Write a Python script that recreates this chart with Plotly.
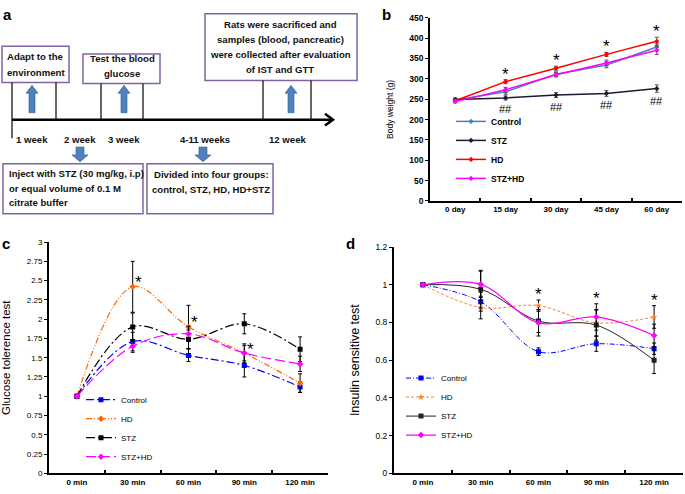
import plotly.graph_objects as go

W, H = 685, 494

# ---------------- data ----------------
days = ["0 day", "15 day", "30 day", "45 day", "60 day"]
bw_control = [248, 268, 311, 334, 378]
bw_stz = [249, 253, 260, 264, 276]
bw_hd = [246, 293, 326, 360, 392]
bw_stzhd = [244, 273, 310, 339, 370]
bw_control_err = [3, 6, 6, 7, 8]
bw_stz_err = [4, 5, 6, 7, 9]
bw_hd_err = [3, 5, 5, 5, 10]
bw_stzhd_err = [3, 6, 5, 7, 10]
bw_star_idx = [1, 2, 3, 4]

mins = ["0 min", "30 min", "60 min", "90 min", "120 min"]
gtt_control = [1.0, 1.71, 1.53, 1.40, 1.12]
gtt_hd = [1.0, 2.42, 1.90, 1.56, 1.17]
gtt_stz = [1.0, 1.90, 1.74, 1.94, 1.61]
gtt_stzhd = [1.0, 1.65, 1.81, 1.56, 1.42]
gtt_control_err = [0, 0.12, 0.08, 0.15, 0.07]
gtt_hd_err = [0, 0.33, 0.28, 0.12, 0.12]
gtt_stz_err = [0, 0.18, 0.12, 0.13, 0.16]
gtt_stzhd_err = [0, 0.08, 0.10, 0.10, 0.10]
gtt_star_idx = [1, 2, 3]

ist_control = [1.0, 0.91, 0.645, 0.687, 0.661]
ist_hd = [1.0, 0.879, 0.889, 0.798, 0.829]
ist_stz = [1.0, 0.976, 0.807, 0.786, 0.599]
ist_stzhd = [1.0, 1.002, 0.798, 0.829, 0.731]
ist_control_err = [0, 0.05, 0.02, 0.04, 0.03]
ist_hd_err = [0, 0.06, 0.03, 0.07, 0.06]
ist_stz_err = [0, 0.10, 0.06, 0.08, 0.07]
ist_stzhd_err = [0, 0.07, 0.07, 0.07, 0.06]
ist_star_idx = [2, 3, 4]

FONT = "Arial, Liberation Sans, sans-serif"


def px(x):
    return x / W


def py(y):
    return 1 - y / H


fig = go.Figure()


def add_series(x, y, err, name, color, xa, ya, legend, dash="solid", symbol="circle",
               msize=4, width=1.5, shape="linear", ecolor="black"):
    fig.add_trace(go.Scatter(
        x=x, y=y, name=name, xaxis=xa, yaxis=ya, legend=legend,
        mode="lines+markers", line=dict(color=color, width=width, dash=dash, shape=shape),
        marker=dict(color=color, size=msize, symbol=symbol),
        error_y=dict(type="data", array=err, color=ecolor, thickness=1, width=2),
    ))


# panel b
add_series(days, bw_control, bw_control_err, "Control", "#4A7EBB", "x", "y", "legend",
           symbol="diamond", msize=4, width=1.5, ecolor="#555555")
add_series(days, bw_stz, bw_stz_err, "STZ", "#1A1A33", "x", "y", "legend",
           symbol="diamond", msize=4, width=1.5, ecolor="#555555")
add_series(days, bw_hd, bw_hd_err, "HD", "#FF0000", "x", "y", "legend",
           symbol="diamond", msize=4, width=1.5, ecolor="#555555")
add_series(days, bw_stzhd, bw_stzhd_err, "STZ+HD", "#FF00FF", "x", "y", "legend",
           symbol="diamond", msize=4, width=1.5, ecolor="#555555")

# panel c
add_series(mins, gtt_control, gtt_control_err, "Control", "#0000FF", "x2", "y2", "legend2",
           dash="8px,3px,2px,3px", symbol="square", msize=5, width=1.2, shape="spline")
add_series(mins, gtt_hd, gtt_hd_err, "HD", "#FF6600", "x2", "y2", "legend2",
           dash="6px,2px,1px,2px,1px,2px", symbol="diamond", msize=5, width=1.2, shape="spline")
add_series(mins, gtt_stz, gtt_stz_err, "STZ", "#000000", "x2", "y2", "legend2",
           dash="9px,3px,2px,3px", symbol="square", msize=5, width=1.2, shape="spline")
add_series(mins, gtt_stzhd, gtt_stzhd_err, "STZ+HD", "#FF00FF", "x2", "y2", "legend2",
           dash="10px,4px", symbol="diamond", msize=5, width=1.2, shape="spline")

# panel d
add_series(mins, ist_control, ist_control_err, "Control", "#0000FF", "x3", "y3", "legend3",
           dash="5px,2px,1px,2px", symbol="square", msize=5, width=1.0, shape="spline")
add_series(mins, ist_hd, ist_hd_err, "HD", "#FF7F27", "x3", "y3", "legend3",
           dash="3px,2px", symbol="star", msize=5, width=1.0, shape="spline")
add_series(mins, ist_stz, ist_stz_err, "STZ", "#222222", "x3", "y3", "legend3",
           symbol="square", msize=5, width=1.0, shape="spline")
add_series(mins, ist_stzhd, ist_stzhd_err, "STZ+HD", "#FF00FF", "x3", "y3", "legend3",
           symbol="diamond", msize=5, width=1.2, shape="spline")


# ---------------- axes ----------------
def xcat(domain, cats, lw=1.5):
    return dict(domain=domain, type="category", categoryarray=cats, range=[-0.5, 4.5],
                showline=True, linecolor="black", linewidth=lw, ticks="inside", ticklen=3,
                tickson="boundaries", tickcolor="black", tickwidth=1.5, showgrid=False,
                zeroline=False,
                tickfont=dict(family=FONT, size=8, color="black", weight="bold"),
                fixedrange=True)


def yax(domain, rng, dtick, title, tsize, bold, anchor, standoff, fsize=8, lw=1.5):
    return dict(domain=domain, range=rng, dtick=dtick, showline=True, linecolor="black",
                linewidth=lw, ticks="outside", ticklen=3, tickcolor="black", showgrid=False,
                zeroline=False, anchor=anchor, fixedrange=True,
                tickfont=dict(family=FONT, size=fsize, color="black",
                              weight="bold" if bold else "normal"),
                title=dict(text=title, font=dict(family=FONT, size=tsize, color="black"),
                           standoff=standoff))


fig.update_layout(
    width=W, height=H, margin=dict(l=0, r=0, t=0, b=0), autosize=False,
    paper_bgcolor="white", plot_bgcolor="white",
    xaxis=dict(xcat([px(430), px(682)], days), anchor="y"),
    yaxis=yax([py(200), py(13)], [0, 450], 50, "Body weight (g)", 8.5, True, "x", 14, fsize=8.5),
    xaxis2=dict(xcat([px(49), px(328)], mins, lw=2), anchor="y2"),
    yaxis2=yax([py(478), py(242)], [0, 3], 0.25, "Glucose tolerence test", 11.5, False, "x2", 18,
               lw=2),
    xaxis3=dict(xcat([px(394), px(683)], mins, lw=2), anchor="y3"),
    yaxis3=yax([py(478), py(247)], [0, 1.2], 0.2, "Insulin sensitive test", 12.5, False, "x3", 13,
               fsize=8.5, lw=2),
    legend=dict(x=px(451), y=py(104), xanchor="left", yanchor="top", bgcolor="rgba(0,0,0,0)",
                font=dict(family=FONT, size=8.5, color="black", weight="bold"), itemwidth=30),
    legend2=dict(x=px(81), y=py(388), xanchor="left", yanchor="top", bgcolor="rgba(0,0,0,0)",
                 font=dict(family=FONT, size=8, color="black"), itemwidth=30),
    legend3=dict(x=px(401), y=py(366), xanchor="left", yanchor="top", bgcolor="rgba(0,0,0,0)",
                 font=dict(family=FONT, size=8, color="black"), itemwidth=30),
    showlegend=True,
)

ann = []
shapes = []

# stars / hashes panel b
for i in bw_star_idx:
    ann.append(dict(x=days[i], y=bw_hd[i] + bw_hd_err[i], xref="x", yref="y", text="*",
                    showarrow=False, yanchor="bottom", yshift=-6,
                    font=dict(family=FONT, size=17, color="black")))
    ann.append(dict(x=days[i], y=bw_stz[i] - bw_stz_err[i], xref="x", yref="y", text="##",
                    showarrow=False, yanchor="top", yshift=-1,
                    font=dict(family=FONT, size=11, color="black")))

# stars panel c
for i in gtt_star_idx:
    top = max(gtt_hd[i], gtt_stzhd[i]) if i == 3 else gtt_hd[i]
    ann.append(dict(x=mins[i], y=top, xref="x2", yref="y2", text="*", showarrow=False,
                    yanchor="middle", xanchor="center", xshift=6, yshift=4,
                    font=dict(family=FONT, size=17, color="black")))

# stars panel d
all_ist = [(ist_control, ist_control_err), (ist_hd, ist_hd_err), (ist_stz, ist_stz_err),
           (ist_stzhd, ist_stzhd_err)]
for i in ist_star_idx:
    top = max(v[i] + e[i] for v, e in all_ist)
    ann.append(dict(x=mins[i], y=top, xref="x3", yref="y3", text="*", showarrow=False,
                    yanchor="bottom", yshift=-6,
                    font=dict(family=FONT, size=17, color="black")))

# panel letters
for letter, (lx, ly) in {"a": (8, 10), "b": (387, 10), "c": (6, 243), "d": (350, 243)}.items():
    ann.append(dict(x=px(lx), y=py(ly), xref="paper", yref="paper", text=letter,
                    showarrow=False, xanchor="center", yanchor="middle",
                    font=dict(family=FONT, size=15, color="black", weight="bold")))

# ---------------- panel a diagram ----------------
BOX = "#8064A2"
BLUE = "#4F81BD"


def rect(x0, y0, x1, y1):
    shapes.append(dict(type="rect", xref="paper", yref="paper", x0=px(x0), x1=px(x1),
                       y0=py(y1), y1=py(y0), line=dict(color=BOX, width=1.5),
                       fillcolor="white", layer="below"))


def line(x0, y0, x1, y1, w=1.2):
    shapes.append(dict(type="line", xref="paper", yref="paper", x0=px(x0), x1=px(x1),
                       y0=py(y0), y1=py(y1), line=dict(color="black", width=w)))


def path(pts, fill=None, color="black", w=1):
    d = "M " + " L ".join(f"{px(a):.5f},{py(b):.5f}" for a, b in pts)
    if fill:
        d += " Z"
    shapes.append(dict(type="path", xref="paper", yref="paper", path=d,
                       fillcolor=fill if fill else "rgba(0,0,0,0)",
                       line=dict(color=color, width=w)))


def text(x, y, s, size=9.6, anchor="center"):
    ann.append(dict(x=px(x), y=py(y), xref="paper", yref="paper", text=s, showarrow=False,
                    xanchor=anchor, yanchor="middle",
                    font=dict(family=FONT, size=size, color="#111111", weight="bold")))


rect(2, 42, 69, 79)
rect(83, 50, 160, 80)
rect(205, 9, 357, 77)
rect(3, 162, 143, 213)
rect(147, 162, 273, 213)

text(5, 53, "Adapt to the", anchor="left")
text(5, 69, "environment", anchor="left")
text(122, 55, "Test the blood")
text(122, 70, "glucose")
for s, yy in [("Rats were sacrificed and", 20), ("samples (blood, pancreatic)", 35),
              ("were collected after evaluation", 51), ("of IST and GTT", 66)]:
    text(280, yy, s)
for s, yy in [("Inject with STZ (30 mg/kg, i.p)", 172), ("or equal volume of 0.1 M", 187),
              ("citrate buffer", 202)]:
    text(7, yy, s, anchor="left")
text(211, 173, "Divided into four groups:")
text(211, 188, "control, STZ, HD, HD+STZ")

# timeline
line(12, 117, 332, 117, w=2.5)
path([(325, 111), (333, 117), (325, 123)], w=2.5)
line(12, 79, 12, 136)
for vx, top in [(56, 79), (101, 80), (143, 80), (263, 77), (311, 77)]:
    line(vx, top, vx, 117)

for lbl, lx in [("1 week", 32), ("2 week", 80), ("3 week", 124), ("4-11 weeks", 205),
                ("12 week", 287)]:
    text(lx, 137, lbl)

# block arrows up
for cx in [32, 124, 291]:
    path([(cx - 3, 110), (cx + 3, 110), (cx + 3, 90), (cx + 6, 90), (cx, 82), (cx - 6, 90),
          (cx - 3, 90)], fill=BLUE, color="#2E5C8A", w=0.6)
# block arrows down
for cx in [80, 203]:
    path([(cx - 4, 145), (cx + 4, 145), (cx + 4, 153), (cx + 8, 153), (cx, 160), (cx - 8, 153),
          (cx - 4, 153)], fill=BLUE, color="#2E5C8A", w=0.6)

fig.update_layout(annotations=ann, shapes=shapes)
fig.write_html("out.html", config={"displayModeBar": False},
               post_script="document.body.style.margin='0px';")
